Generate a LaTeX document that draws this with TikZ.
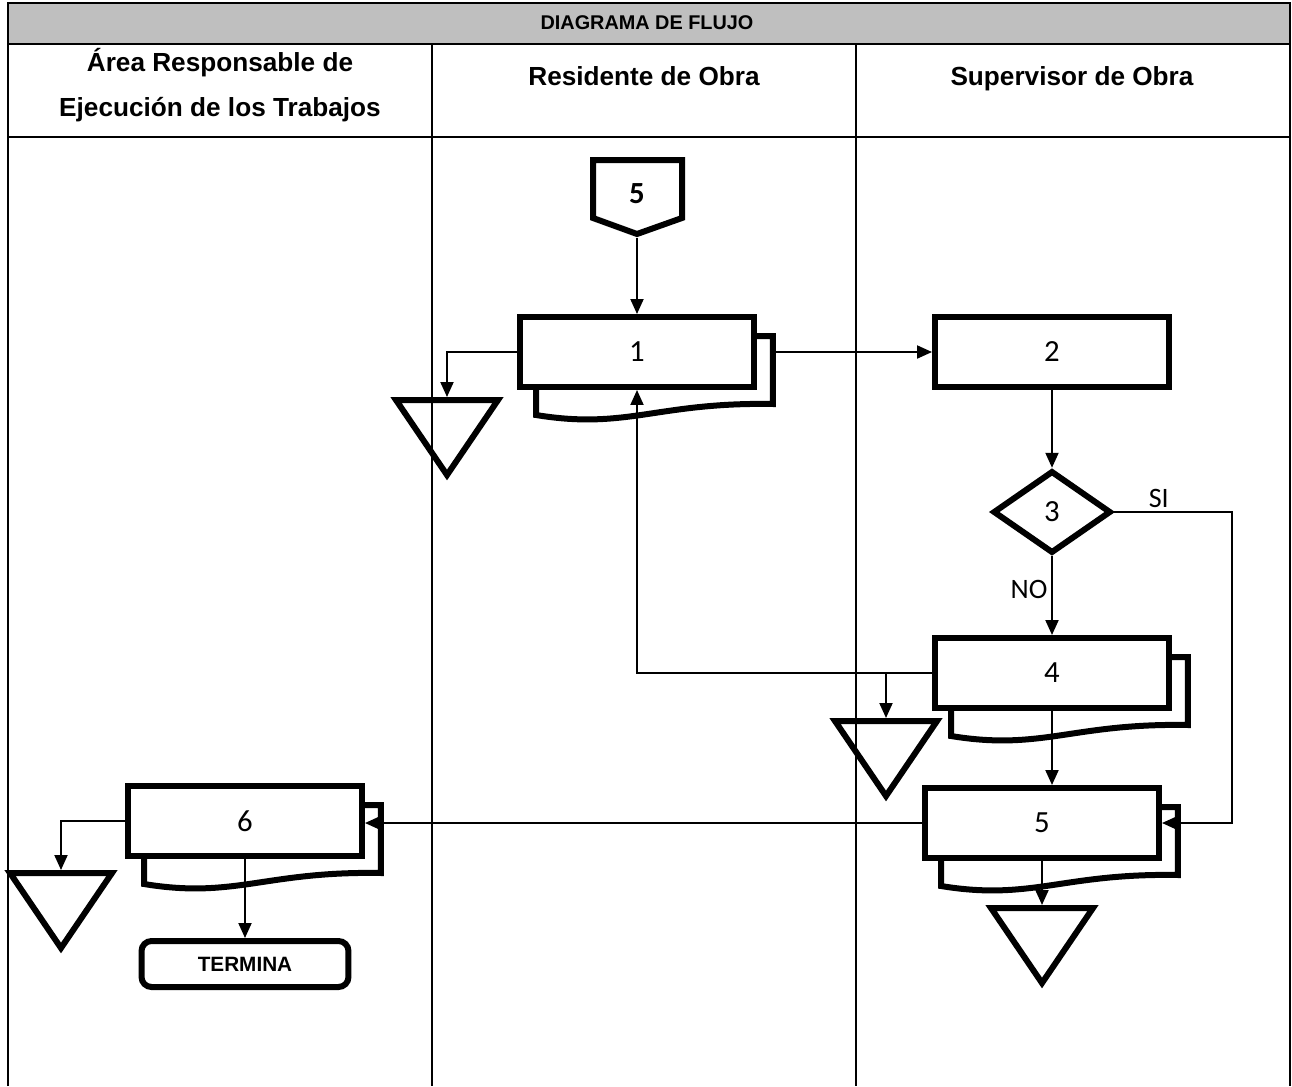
\documentclass[tikz,border=0pt]{standalone}
\usepackage{fontspec}
\setmainfont{Carlito}
\newfontfamily\arial{Liberation Sans}
\usetikzlibrary{shapes.geometric, arrows.meta, calc}

\pgfdeclarelayer{background}
\pgfsetlayers{background,main}

\tikzset{
  proc/.style={draw, line width=0.12cm, fill=white, minimum width=4.68cm,
    minimum height=1.4cm, inner sep=0pt, font=\fontsize{17.5}{21}\selectfont},
  sombra/.style={draw, line width=0.12cm, fill=white},
  decision/.style={diamond, draw, line width=0.12cm, fill=white, minimum width=2.36cm,
    minimum height=1.65cm, inner sep=0pt, font=\fontsize{17.5}{21}\selectfont},
  almacen/.style={draw, line width=0.12cm},
  fin/.style={draw, line width=0.12cm, rounded corners=0.2cm, minimum width=4.14cm,
    minimum height=0.92cm, inner sep=0pt, font=\arial\bfseries\fontsize{11.8}{14}\selectfont},
  cab/.style={font=\arial\bfseries\fontsize{14.9}{25.5}\selectfont, align=center},
  flecha/.style={line width=0.04cm, -{Triangle[length=0.3cm,width=0.26cm]}},
  linea/.style={line width=0.04cm},
  tabla/.style={line width=0.045cm},
  etiq/.style={font=\fontsize{16}{19}\selectfont, inner sep=2pt},
}

\newcommand{\sombra}[1]{%
  \draw[sombra] ($(#1.north east)+(16,22)$) -- ($(#1.south east)+(16,14)$)
    .. controls ($(#1.south west)+(140,12)$) and ($(#1.south west)+(110,40)$) .. ($(#1.south west)+(19,25)$)
    -- ($(#1.north west)+(19,22)$) -- cycle;
  \coordinate (#1s) at ($(#1.east)+(19,0)$);
}

\begin{document}
\begin{tikzpicture}[x=0.02cm, y=-0.02cm]
  \useasboundingbox (0,0) rectangle (1292,1086);

  % tabla
  \fill[gray!50] (8,3) rectangle (1290,44);
  \draw[tabla] (8,1086) -- (8,3) -- (1290,3) -- (1290,1086);
  \draw[tabla] (8,44) -- (1290,44);
  \draw[tabla] (8,137) -- (1290,137);
  \draw[tabla] (432,44) -- (432,1086);
  \draw[tabla] (856,44) -- (856,1086);

  \node[font=\arial\bfseries\fontsize{11.3}{13}\selectfont] (titulo) at (647,23) {DIAGRAMA DE FLUJO};
  \node[cab] (col1) at (220,85) {Área Responsable de\\Ejecución de los Trabajos};
  \node[cab, anchor=base] (col2) at (644,85) {Residente de Obra};
  \node[cab, anchor=base] (col3) at (1072,85) {Supervisor de Obra};

  % conector de pagina
  \draw[almacen] (593,160) -- (682,160) -- (682,218) -- (637,234) -- (593,218) -- cycle;
  \node[font=\bfseries\fontsize{17.5}{21}\selectfont] (k5) at (637,194) {5};
  \coordinate (k5p) at (637,238);

  % actividades
  \node[proc] (p1) at (637,352) {1};
  \node[proc] (p2) at (1052,352) {2};
  \node[decision] (d3) at (1052,512) {3};
  \node[proc] (p4) at (1052,673) {4};
  \node[proc] (p5) at (1042,823) {5};
  \node[proc] (p6) at (245,821) {6};
  \node[fin] (t1) at (245,964) {TERMINA};

  \begin{pgfonlayer}{background}
    \sombra{p1}
    \sombra{p4}
    \sombra{p5}
    \sombra{p6}
  \end{pgfonlayer}

  % archivos
  \foreach \n/\x/\y in {a1/447/397, a4/886/718, a5/1042/905, a6/61/870} {
    \coordinate (\n) at (\x,\y);
    \draw[almacen] ($(\n)+(-51,3)$) -- ($(\n)+(51,3)$) -- ($(\n)+(0,78)$) -- cycle;
  }

  \draw[flecha] (k5p) -- (p1.north);
  \draw[flecha] (p1.west) -| (a1);
  \draw[flecha] (p1s) -- (p2.west);
  \draw[flecha] (p2.south) -- (d3.north);
  \draw[flecha] (d3.east) -- node[etiq, pos=0.38, above] {SI} ++(118,0) |- (p5.east);
  \draw[flecha] (d3.south) -- node[etiq, pos=0.42, left] {NO} (p4.north);
  \draw[flecha] (p4.west) -| (p1.south);
  \draw[flecha] (p4.west -| a4) -- (a4);
  \draw[flecha] (p4.south) -- (p4.south |- p5.north);
  \draw[flecha] (p5.south) -- (a5);
  \draw[flecha] (p5.west) -- (p5.west -| p6.east);
  \draw[flecha] (p6.west) -| (a6);
  \draw[flecha] (p6.south) -- (t1.north);
\end{tikzpicture}
\end{document}
